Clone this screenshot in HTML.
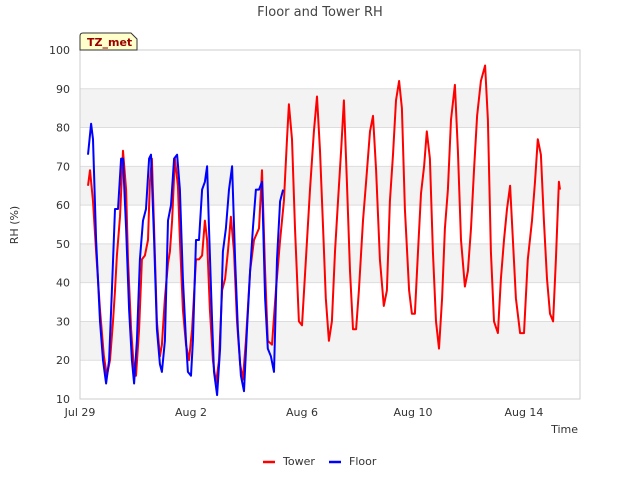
<!DOCTYPE html>
<html><head><meta charset="utf-8"><style>
body{margin:0;background:#fff;font-family:"Liberation Sans","DejaVu Sans",sans-serif}
</style></head><body>
<svg width="640" height="480" xmlns="http://www.w3.org/2000/svg" font-family="DejaVu Sans, Liberation Sans, sans-serif">
<text x="320" y="16" text-anchor="middle" font-size="13" fill="#444">Floor and Tower RH</text>
<g id="bands"></g>
<g id="grid"></g>
<rect x="80" y="50" width="500" height="349" fill="none" stroke="#ccc"/>
<g id="ticks" font-size="11" fill="#333"></g>
<g id="series"></g>
<text transform="translate(18,225) rotate(-90)" text-anchor="middle" font-size="11" fill="#333">RH (%)</text>
<text x="578" y="433" text-anchor="end" font-size="11" fill="#333">Time</text>
<g>
<path d="M80,50 L80,36 Q80,33 83,33 L131,33 L137,39 L137,50 Z" fill="#ffffcc" stroke="#333"/>
<text x="87" y="46" font-size="11" font-weight="bold" fill="#990000">TZ_met</text>
</g>
<g font-size="11" fill="#333">
<g><line x1="263" y1="462" x2="275" y2="462" stroke="#f00" stroke-width="2.5"/><text x="283" y="465">Tower</text></g>
<g><line x1="329" y1="462" x2="341" y2="462" stroke="#00f" stroke-width="2.5"/><text x="349" y="465">Floor</text></g>
</g>
</svg>
<script>
const yTicks=[10,20,30,40,50,60,70,80,90,100];
const xTickDays=[0,4,8,12,16];
const xTickLabels=["Jul 29","Aug 2","Aug 6","Aug 10","Aug 14"];
const towerT=[0.29,0.36,0.47,0.58,0.72,0.86,0.97,1.08,1.19,1.26,1.33,1.44,1.55,1.66,1.73,1.84,1.95,2.02,2.13,2.23,2.34,2.45,2.52,2.59,2.67,2.77,2.88,2.95,3.06,3.17,3.24,3.32,3.42,3.53,3.60,3.71,3.82,3.93,4.04,4.18,4.29,4.40,4.50,4.58,4.68,4.79,4.90,5.01,5.12,5.23,5.33,5.44,5.55,5.66,5.77,5.87,5.98,6.13,6.27,6.45,6.56,6.67,6.77,6.92,7.06,7.21,7.35,7.46,7.53,7.64,7.75,7.89,8.00,8.14,8.29,8.43,8.54,8.65,8.76,8.86,8.97,9.08,9.19,9.30,9.41,9.51,9.62,9.73,9.84,9.95,10.05,10.20,10.31,10.45,10.56,10.67,10.81,10.95,11.06,11.17,11.28,11.39,11.50,11.60,11.71,11.86,11.96,12.07,12.18,12.29,12.40,12.50,12.61,12.72,12.83,12.94,13.05,13.15,13.26,13.37,13.51,13.62,13.73,13.87,13.98,14.09,14.20,14.31,14.45,14.60,14.70,14.81,14.92,15.06,15.17,15.28,15.39,15.50,15.60,15.71,15.86,16.00,16.14,16.29,16.40,16.50,16.61,16.72,16.83,16.94,17.05,17.15,17.26,17.30];
const towerV=[65,69,61,48,33,21,16,20,30,38,47,57,74,64,46,28,17,16,28,46,47,51,66,72,54,30,21,24,36,45,48,56,72,65,51,33,24,20,28,46,46,47,56,51,33,20,14,20,38,41,48,57,48,30,19,15,25,43,51,54,69,43,25,24,38,51,61,77,86,77,54,30,29,46,64,79,88,74,54,36,25,30,48,61,74,87,66,43,28,28,38,56,66,79,83,69,46,34,38,61,73,87,92,85,59,38,32,32,48,63,70,79,72,48,30,23,36,54,64,82,91,74,51,39,43,54,69,83,92,96,82,48,30,27,41,51,59,65,51,36,27,27,46,56,66,77,73,56,41,32,30,46,66,64];
const floorT=[0.29,0.40,0.47,0.58,0.72,0.83,0.94,1.05,1.15,1.26,1.37,1.48,1.55,1.66,1.77,1.87,1.95,2.05,2.16,2.27,2.38,2.49,2.56,2.67,2.77,2.88,2.95,3.06,3.17,3.28,3.39,3.50,3.60,3.71,3.82,3.89,4.00,4.07,4.18,4.29,4.40,4.50,4.58,4.65,4.76,4.83,4.94,5.05,5.15,5.26,5.37,5.48,5.59,5.69,5.80,5.91,6.02,6.13,6.23,6.34,6.45,6.56,6.67,6.77,6.88,6.99,7.10,7.21,7.32];
const floorV=[73,81,77,51,30,20,14,20,38,59,59,72,72,54,33,20,14,25,46,56,59,72,73,51,28,19,17,25,56,60,72,73,64,41,25,17,16,25,51,51,64,66,70,54,30,17,11,23,48,54,64,70,46,28,16,12,28,43,54,64,64,66,36,23,21,17,46,61,64];
const X0=80,X1=580,D0=0,D1=18.02,Y0=399,Y1=50,V0=10,V1=100;
const xs=d=>X0+(d-D0)/(D1-D0)*(X1-X0);
const ys=v=>Y0-(v-V0)/(V1-V0)*(Y0-Y1);
const NS="http://www.w3.org/2000/svg";
function mk(tag,attrs,parent){const e=document.createElementNS(NS,tag);for(const k in attrs)e.setAttribute(k,attrs[k]);parent.appendChild(e);return e;}
const bands=document.getElementById('bands'),grid=document.getElementById('grid'),ticks=document.getElementById('ticks'),series=document.getElementById('series');
for(let i=0;i<yTicks.length-1;i++){if(yTicks[i]%20===0){const r=mk('rect',{x:X0,y:ys(yTicks[i]+10),width:X1-X0,height:ys(yTicks[i])-ys(yTicks[i]+10),fill:'#f3f3f3'},bands);

}}
yTicks.forEach(v=>{const l=mk('line',{x1:X0,x2:X1,y1:ys(v),y2:ys(v),stroke:'#ddd'},grid);


const t=mk('text',{x:X0-10,y:ys(v)+4,'text-anchor':'end'},ticks);t.textContent=v;

});
xTickDays.forEach((d,i)=>{const t=mk('text',{x:xs(d),y:416,'text-anchor':'middle'},ticks);t.textContent=xTickLabels[i];

});
function line(T,V,color,name){const p=T.map((t,i)=>(i?'L':'M')+xs(t).toFixed(1)+','+ys(V[i]).toFixed(1)).join('');
const e=mk('path',{d:p,fill:'none',stroke:color,'stroke-width':2,'stroke-linejoin':'round'},series);

}
line(towerT,towerV,'#f00','tower-line');
line(floorT,floorV,'#00f','floor-line');
</script>
</body></html>
